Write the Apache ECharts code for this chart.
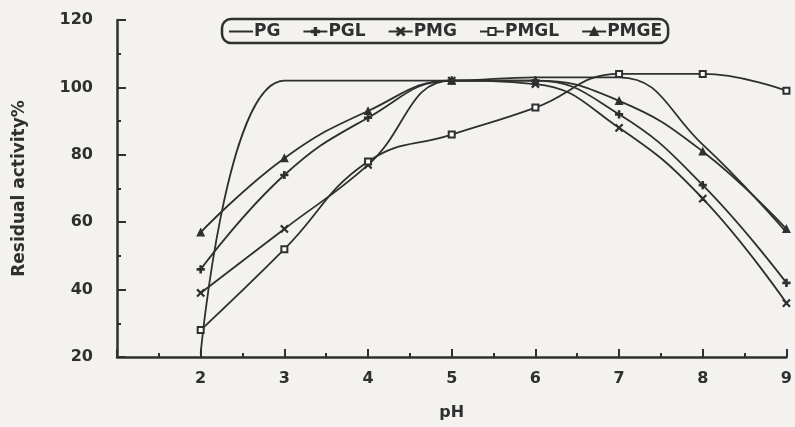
<!DOCTYPE html>
<html>
<head>
<meta charset="utf-8">
<script src="https://cdn.jsdelivr.net/npm/echarts@6/dist/echarts.min.js"></script>
<style>
  html, body { margin: 0; padding: 0; background: #f3f2ee; }
  #chart { width: 795px; height: 427px; }
</style>
</head>
<body>
<div id="chart"></div>
<script>
// pH 值与各样品的残余活力
const phValues = [2, 3, 4, 5, 6, 7, 8, 9]
const seriesNames = ['PG', 'PGL', 'PMG', 'PMGL', 'PMGE']
const pgData = [21, 102, 102, 102, 103, 103, 83, 57]
const pglData = [46, 74, 91, 102, 102, 92, 71, 42]
const pmgData = [39, 58, 77, 102, 101, 88, 67, 36]
const pmglData = [28, 52, 78, 86, 94, 104, 104, 99]
const pmgeData = [57, 79, 93, 102, 102, 96, 81, 58]
const xTicks = [2, 3, 4, 5, 6, 7, 8, 9]
const yTicks = [20, 40, 60, 80, 100, 120]

const ink = '#2f2f2f'
const font = 'DejaVu Sans'

// 各系列的标记样式
const symbols = {
  PG: 'none',
  PGL: 'path://M4 0h2v4h4v2h-4v4h-2v-4h-4v-2h4z',
  PMG: 'path://M1 0l4 4 4-4 1 1-4 4 4 4-1 1-4-4-4 4-1-1 4-4-4-4z',
  PMGL: 'emptyRect',
  PMGE: 'triangle'
}
const allData = [pgData, pglData, pmgData, pmglData, pmgeData]

let myChart = echarts.init(document.getElementById('chart'))

let series = seriesNames.map(function (name, i) {
  return {
    name: name,
    type: 'line',
    smooth: 0.45,
    symbol: symbols[name],
    symbolSize: name === 'PMGL' ? 6 : 7,
    showSymbol: name !== 'PG',
    lineStyle: { color: ink, width: 1.8 },
    itemStyle: { color: ink, borderColor: ink, borderWidth: 1.2 },
    data: phValues.map(function (x, j) { return [x, allData[i][j]] })
  }
})

// 图例:PG 只画一条线,不画标记
let legendData = seriesNames.map(function (name) {
  if (name === 'PG') return { name: name, itemStyle: { opacity: 0 } }
  return { name: name }
})

let option = {
  backgroundColor: '#f3f2ee',
  animation: false,
  legend: {
    data: legendData,
    left: 222,
    top: 19,
    padding: [4, 6, 3, 6],
    itemGap: 22,
    itemWidth: 24,
    itemHeight: 9,
    borderColor: ink,
    borderWidth: 2.5,
    borderRadius: 9,
    textStyle: { color: ink, fontSize: 17, fontWeight: 'bold', fontFamily: font, padding: [0, 0, 0, -4] }
  },
  grid: { left: 117, right: 8, top: 20, bottom: 70 },
  xAxis: {
    type: 'value',
    min: 1,
    max: 9,
    interval: 1,
    name: 'pH',
    nameLocation: 'middle',
    nameGap: 48,
    nameTextStyle: { color: ink, fontSize: 16, fontWeight: 'bold', fontFamily: font },
    axisLine: { lineStyle: { color: ink, width: 2.5 } },
    axisTick: { inside: true, length: 8, lineStyle: { color: ink, width: 2 } },
    minorTick: { show: true, splitNumber: 2, length: 4, lineStyle: { color: ink, width: 2 } },
    splitLine: { show: false },
    axisLabel: {
      color: ink,
      fontSize: 16,
      fontWeight: 'bold',
      fontFamily: font,
      margin: 14,
      formatter: function (v) { return xTicks.indexOf(v) >= 0 ? String(v) : '' }
    }
  },
  yAxis: {
    type: 'value',
    min: 20,
    max: 120,
    interval: 20,
    name: 'Residual activity%',
    nameLocation: 'middle',
    nameGap: 89,
    nameTextStyle: { color: ink, fontSize: 17, fontWeight: 'bold', fontFamily: font },
    axisLine: { show: true, lineStyle: { color: ink, width: 2.5 } },
    axisTick: { show: true, inside: true, length: 9, lineStyle: { color: ink, width: 2 } },
    minorTick: { show: true, splitNumber: 2, length: 4, lineStyle: { color: ink, width: 2 } },
    splitLine: { show: false },
    axisLabel: {
      color: ink,
      fontSize: 16,
      fontWeight: 'bold',
      fontFamily: font,
      margin: 24,
      formatter: function (v) { return yTicks.indexOf(v) >= 0 ? String(v) : '' }
    }
  },
  series: series
}
myChart.setOption(option)
</script>
</body>
</html>
